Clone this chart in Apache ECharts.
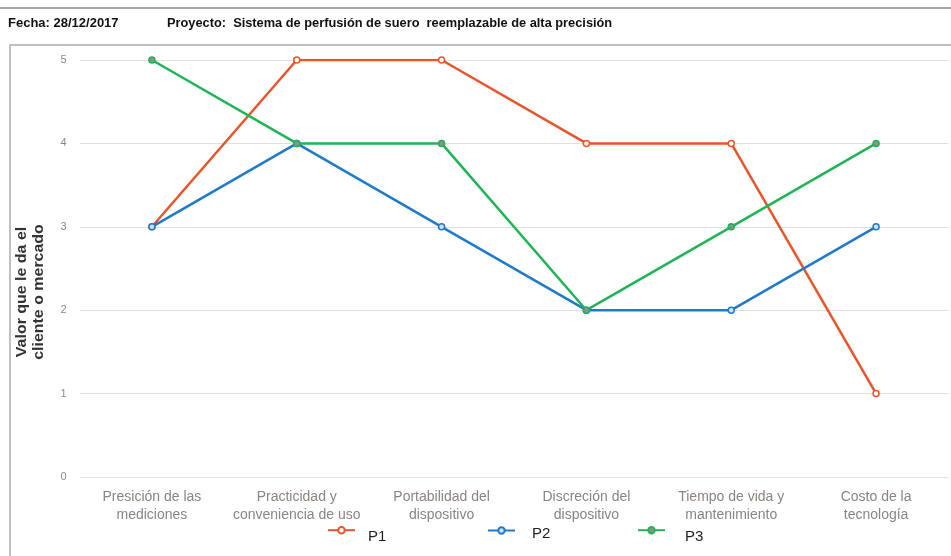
<!DOCTYPE html>
<html>
<head>
<meta charset="utf-8">
<script src="https://cdn.jsdelivr.net/npm/echarts@6/dist/echarts.min.js"></script>
<style>
  html, body { margin: 0; padding: 0; background: #fff; }
  #chart { width: 951px; height: 556px; }
</style>
</head>
<body>
<div id="chart"></div>
<script>
// Atributos evaluados
const categories = [
  'Presición de las\nmediciones',
  'Practicidad y\nconveniencia de uso',
  'Portabilidad del\ndispositivo',
  'Discreción del\ndispositivo',
  'Tiempo de vida y\nmantenimiento',
  'Costo de la\ntecnología'
];
// Puntuaciones por prototipo
const p1 = [3, 5, 5, 4, 4, 1];
const p2 = [3, 4, 3, 2, 2, 3];
const p3 = [5, 4, 4, 2, 3, 4];
const yTicks = [0, 1, 2, 3, 4, 5];

const headerDate = 'Fecha: 28/12/2017';
const headerProject = 'Proyecto:  Sistema de perfusión de suero  reemplazable de alta precisión';
const yTitle = 'Valor que le da el\ncliente o mercado';

const chart = echarts.init(document.getElementById('chart'));

// una leyenda por serie, con la etiqueta algo desplazada
function legendFor(name, left, top, padTop, padLeft) {
  return {
    data: [name],
    left: left,
    top: top,
    padding: 0,
    itemWidth: 27,
    itemHeight: 8,
    itemGap: 0,
    formatter: '{t|{name}}',
    textStyle: {
      rich: {
        t: { color: '#222', fontSize: 15, fontFamily: 'Liberation Sans', padding: [padTop, 0, 0, padLeft] }
      }
    }
  };
}

chart.setOption({
  animation: false,
  backgroundColor: '#fff',
  graphic: [
    { type: 'line', shape: { x1: 0, y1: 8, x2: 951, y2: 8 }, style: { stroke: '#a9a4a0', lineWidth: 2 }, silent: true },
    { type: 'rect', shape: { x: 10, y: 45, width: 960, height: 600 }, style: { fill: 'none', stroke: '#b0aaa6', lineWidth: 1.5 }, silent: true },
    { type: 'text', left: 8, top: 17, style: { text: headerDate, font: 'bold 13px "Liberation Sans"', fill: '#111' } },
    { type: 'text', left: 167, top: 17, style: { text: headerProject, font: 'bold 12.8px "Liberation Sans"', fill: '#111' } },
    // título vertical del eje Y, algo estirado a lo largo
    {
      type: 'text', x: 31, y: 292, rotation: Math.PI / 2, scaleX: 1.14,
      style: {
        text: yTitle, font: 'bold 14px "Liberation Sans"', fill: '#333',
        align: 'center', verticalAlign: 'middle', lineHeight: 17
      },
      silent: true
    }
  ],
  grid: { left: 79.5, right: 2.5, top: 60, bottom: 79 },
  legend: [
    legendFor('P1', 327, 526, 14, 8),
    legendFor('P2', 487, 526, 6, 12),
    legendFor('P3', 637, 526, 14, 15)
  ],
  xAxis: {
    type: 'category',
    data: categories,
    boundaryGap: true,
    axisLine: { show: false },
    axisTick: { show: false },
    axisLabel: {
      interval: 0,
      color: '#8c8480',
      fontSize: 14,
      lineHeight: 18,
      margin: 11,
      fontFamily: 'Liberation Sans'
    }
  },
  yAxis: {
    type: 'value',
    min: yTicks[0],
    max: yTicks[yTicks.length - 1],
    interval: 1,
    axisLine: { show: false },
    axisTick: { show: false },
    axisLabel: { color: '#8a8a8a', fontSize: 11, margin: 13, fontFamily: 'Liberation Sans' },
    splitLine: { lineStyle: { color: '#e2dfdd', width: 1 } }
  },
  series: [
    {
      name: 'P1', type: 'line', data: p1, symbol: 'circle', symbolSize: 6,
      lineStyle: { color: '#e8552a', width: 2.5 },
      itemStyle: { color: '#ffffff', borderColor: '#e8552a', borderWidth: 1.5 }
    },
    {
      name: 'P2', type: 'line', data: p2, symbol: 'circle', symbolSize: 6,
      lineStyle: { color: '#1f7bc8', width: 2.5 },
      itemStyle: { color: '#cfe3f3', borderColor: '#1f7bc8', borderWidth: 1.5 }
    },
    {
      name: 'P3', type: 'line', data: p3, symbol: 'circle', symbolSize: 6,
      lineStyle: { color: '#1fb455', width: 2.5 },
      itemStyle: { color: '#8f8f8f', borderColor: '#1fb455', borderWidth: 1.5 }
    }
  ]
});
</script>
</body>
</html>
